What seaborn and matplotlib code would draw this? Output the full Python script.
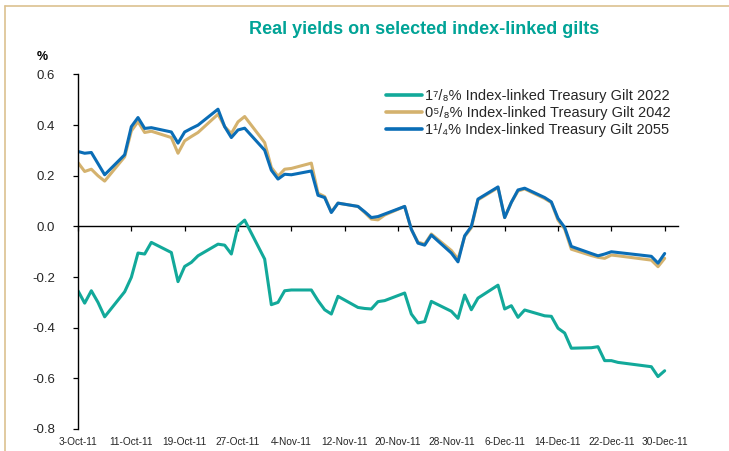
import matplotlib
matplotlib.use("Agg")
import matplotlib.pyplot as plt
from matplotlib import font_manager
from matplotlib.lines import Line2D
import seaborn as sns
import pandas as pd
import numpy as np

# ---------------- data ----------------
dates = [
    "2011-10-03", "2011-10-04", "2011-10-05", "2011-10-06", "2011-10-07",
    "2011-10-10", "2011-10-11", "2011-10-12", "2011-10-13", "2011-10-14",
    "2011-10-17", "2011-10-18", "2011-10-19", "2011-10-20", "2011-10-21",
    "2011-10-24", "2011-10-25", "2011-10-26", "2011-10-27", "2011-10-28",
    "2011-10-31",
    "2011-11-01", "2011-11-02", "2011-11-03", "2011-11-04",
    "2011-11-07", "2011-11-08", "2011-11-09", "2011-11-10", "2011-11-11",
    "2011-11-14", "2011-11-15", "2011-11-16", "2011-11-17", "2011-11-18",
    "2011-11-21", "2011-11-22", "2011-11-23", "2011-11-24", "2011-11-25",
    "2011-11-28", "2011-11-29", "2011-11-30",
    "2011-12-01", "2011-12-02",
    "2011-12-05", "2011-12-06", "2011-12-07", "2011-12-08", "2011-12-09",
    "2011-12-12", "2011-12-13", "2011-12-14", "2011-12-15", "2011-12-16",
    "2011-12-19", "2011-12-20", "2011-12-21", "2011-12-22", "2011-12-23",
    "2011-12-28", "2011-12-29", "2011-12-30",
]

gilt_2022 = [
    -0.254, -0.303, -0.254, -0.300, -0.357,
    -0.258, -0.201, -0.105, -0.109, -0.063,
    -0.103, -0.218, -0.158, -0.142, -0.116,
    -0.070, -0.074, -0.109, 0.002, 0.025,
    -0.129,
    -0.309, -0.300, -0.254, -0.251,
    -0.251, -0.293, -0.329, -0.346, -0.276,
    -0.320, -0.324, -0.326, -0.297, -0.293,
    -0.263, -0.346, -0.381, -0.376, -0.296,
    -0.335, -0.363, -0.271,
    -0.329, -0.283,
    -0.232, -0.326, -0.313, -0.359, -0.330,
    -0.353, -0.355, -0.402, -0.421, -0.481,
    -0.479, -0.475, -0.530, -0.530, -0.537,
    -0.554, -0.593, -0.570,
]

gilt_2042 = [
    0.252, 0.217, 0.226, 0.200, 0.179,
    0.275, 0.377, 0.414, 0.371, 0.376,
    0.351, 0.289, 0.338, 0.355, 0.371,
    0.443, 0.394, 0.367, 0.413, 0.434,
    0.331,
    0.233, 0.198, 0.226, 0.229,
    0.250, 0.131, 0.118, 0.057, 0.092,
    0.079, 0.055, 0.029, 0.026, 0.045,
    0.079, -0.012, -0.062, -0.070, -0.030,
    -0.095, -0.129, -0.040,
    -0.005, 0.105,
    0.153, 0.035, 0.095, 0.140, 0.148,
    0.110, 0.094, 0.025, -0.010, -0.090,
    -0.115, -0.122, -0.126, -0.113, -0.116,
    -0.133, -0.159, -0.126,
]

gilt_2055 = [
    0.296, 0.289, 0.292, 0.248, 0.204,
    0.283, 0.394, 0.430, 0.387, 0.390,
    0.373, 0.329, 0.373, 0.387, 0.400,
    0.463, 0.394, 0.351, 0.381, 0.388,
    0.301,
    0.222, 0.187, 0.206, 0.204,
    0.219, 0.123, 0.114, 0.055, 0.092,
    0.079, 0.058, 0.035, 0.039, 0.049,
    0.079, -0.011, -0.066, -0.074, -0.034,
    -0.105, -0.140, -0.037,
    0.000, 0.108,
    0.156, 0.035, 0.095, 0.144, 0.151,
    0.114, 0.097, 0.032, -0.004, -0.079,
    -0.107, -0.116, -0.109, -0.100, -0.103,
    -0.118, -0.145, -0.107,
]

series_names = [
    "1\u2077/\u2088% Index-linked Treasury Gilt 2022",
    "0\u2075/\u2088% Index-linked Treasury Gilt 2042",
    "1\u00b9/\u2084% Index-linked Treasury Gilt 2055",
]
series_colors = ["#12A99A", "#D4B26E", "#0A6DB6"]

xtick_dates = ["2011-10-03", "2011-10-11", "2011-10-19", "2011-10-27",
               "2011-11-04", "2011-11-12", "2011-11-20", "2011-11-28",
               "2011-12-06", "2011-12-14", "2011-12-22", "2011-12-30"]
xtick_labels = ["3-Oct-11", "11-Oct-11", "19-Oct-11", "27-Oct-11",
                "4-Nov-11", "12-Nov-11", "20-Nov-11", "28-Nov-11",
                "6-Dec-11", "14-Dec-11", "22-Dec-11", "30-Dec-11"]
ytick_values = [-0.8, -0.6, -0.4, -0.2, 0.0, 0.2, 0.4, 0.6]
ytick_labels = ["-0.8", "-0.6", "-0.4", "-0.2", "0.0", "0.2", "0.4", "0.6"]

title_text = "Real yields on selected index-linked gilts"
unit_text = "%"

# ---------------- style ----------------
sns.set_theme(style="white")
plt.rcParams["font.family"] = ["Liberation Sans", "DejaVu Sans"]
available = {f.name for f in font_manager.fontManager.ttflist}
narrow = "Liberation Sans Narrow" in available

df = pd.DataFrame({
    "date": pd.to_datetime(dates * 3),
    "value": gilt_2022 + gilt_2042 + gilt_2055,
    "series": [series_names[0]] * len(dates) + [series_names[1]] * len(dates)
              + [series_names[2]] * len(dates),
})

W, H = 729, 451
fig = plt.figure(figsize=(W / 100, H / 100), dpi=100)
fig.patch.set_facecolor("white")
ax = fig.add_axes([78 / W, 1 - 429 / H, 600 / W, (429 - 74.5) / H])

sns.lineplot(data=df, x="date", y="value", hue="series",
             hue_order=series_names, palette=series_colors,
             linewidth=2.2, ax=ax, legend=False)

x0 = pd.Timestamp("2011-10-03")
ax.set_xlim(x0, x0 + pd.Timedelta(days=90))
ax.set_ylim(-0.8, 0.6)
ax.set_xlabel("")
ax.set_ylabel("")

# y axis
ax.set_yticks(ytick_values)
ax.set_yticklabels(ytick_labels, fontsize=9.5)
ax.tick_params(axis="y", direction="out", length=3.5, width=0.9,
               color="black", pad=13, left=True)

# x labels at bottom (no ticks)
ax.set_xticks(pd.to_datetime(xtick_dates))
ax.set_xticklabels(xtick_labels, fontsize=7.3)
ax.tick_params(axis="x", length=0, pad=6)

for s in ["top", "right", "bottom"]:
    ax.spines[s].set_visible(False)
ax.spines["left"].set_color("black")
ax.spines["left"].set_linewidth(1.0)

# zero line with downward ticks
y0 = 0.8 / 1.4
sec = ax.secondary_xaxis(y0)
sec.set_xticks(pd.to_datetime(xtick_dates))
sec.set_xticklabels([""] * len(xtick_dates))
sec.tick_params(axis="x", direction="in", length=3.5, width=0.9, color="black")
for s in sec.spines:
    sec.spines[s].set_color("black")
    sec.spines[s].set_linewidth(1.0)

# legend
handles = [Line2D([0], [0], color=c, lw=2.6) for c in series_colors]
leg = ax.legend(handles, series_names, loc="upper left",
                bbox_to_anchor=(386 / W, 1 - 89 / H),
                bbox_transform=fig.transFigure, frameon=False,
                fontsize=10.5, handlelength=2.45, handletextpad=0.25,
                labelspacing=0.2, borderpad=0, borderaxespad=0)

# title
if narrow:
    fig.text(424 / W, 1 - 33.5 / H, title_text, ha="center", va="baseline",
             fontsize=15.5, fontweight="bold", color="#00A396",
             family=["Liberation Sans Narrow", "DejaVu Sans"])
else:
    fig.text(424 / W, 1 - 33.5 / H, title_text, ha="center", va="baseline",
             fontsize=13, fontweight="bold", color="#00A396")

# unit label
fig.text(42 / W, 1 - 57 / H, unit_text, ha="center", va="center",
         fontsize=9, fontweight="bold", color="black")

# frame lines (top and left)
fig.add_artist(Line2D([5 / W, 1], [1 - 6 / H, 1 - 6 / H],
                      transform=fig.transFigure, color="#DCC190", lw=1.2))
fig.add_artist(Line2D([5 / W, 5 / W], [0, 1 - 6 / H],
                      transform=fig.transFigure, color="#DCC190", lw=1.2))

fig.savefig("out.png", dpi=100, facecolor="white")
